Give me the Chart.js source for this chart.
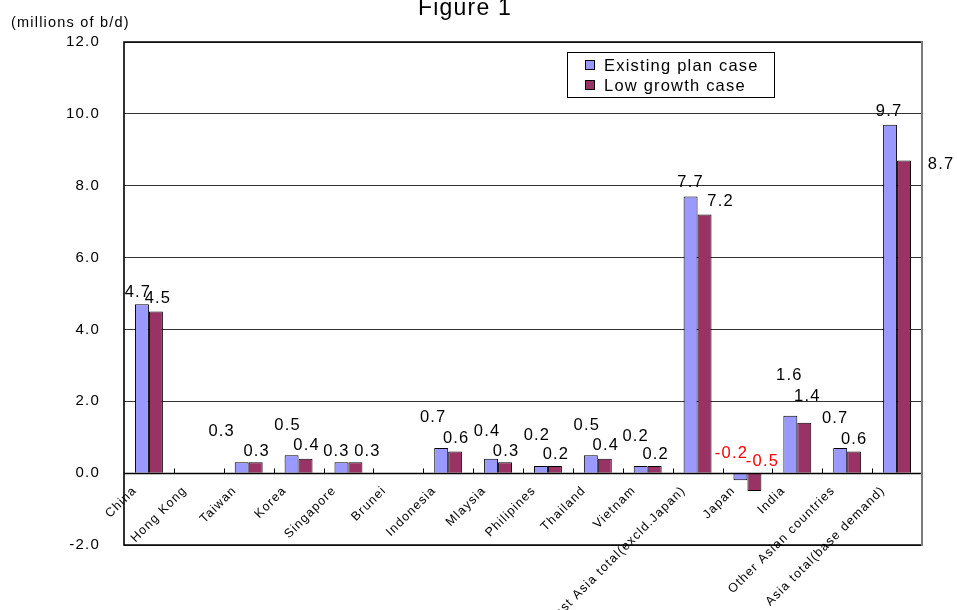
<!DOCTYPE html>
<html>
<head>
<meta charset="utf-8">
<script src="https://cdn.jsdelivr.net/npm/chart.js@4.4.1/dist/chart.umd.min.js"></script>
<style>
  html, body { margin: 0; padding: 0; background: #fff; }
  canvas { display: block; }
</style>
</head>
<body>
<canvas id="c" width="957" height="610"></canvas>
<script>
// ---- data ----
const categories = ['China', 'Hong Kong', 'Taiwan', 'Korea', 'Singapore', 'Brunei', 'Indonesia', 'Mlaysia',
  'Philipines', 'Thailand', 'Vietnam', 'East Asia total(excld.Japan)', 'Japan', 'India',
  'Other Asian countries', 'Asia total(base demand)'];
const existingPlan = [4.7, null, 0.3, 0.5, 0.3, null, 0.7, 0.4, 0.2, 0.5, 0.2, 7.7, -0.2, 1.6, 0.7, 9.7];
const lowGrowth    = [4.5, null, 0.3, 0.4, 0.3, null, 0.6, 0.3, 0.2, 0.4, 0.2, 7.2, -0.5, 1.4, 0.6, 8.7];
const yTicks = [-2, 0, 2, 4, 6, 8, 10, 12];
const seriesNames = ['Existing plan case', 'Low growth case'];
const titleText = 'Figure 1';
const unitText = '(millions of b/d)';

// hand-placed value labels: [dx, dy] from the bar end (from the zero line for negative bars)
const existingLabelNudge = [[-4,-12], null, [-20,-31], [-4,-30], [-5,-11], null, [-8,-31], [-4,-27],
  [-4,-31], [-4,-30], [-5,-30], [0,-14], [-9,-20], [-1,-40], [-5,-30], [-1,-13]];
const lowLabelNudge = [[2,-13], null, [1,-11], [1,-13], [12,-11], null, [1,-13], [1,-11],
  [1,-12], [1,-13], [1,-12], [16,-13], [8,-12], [3,-26], [0,-12], [37,4]];

// ---- styles ----
const FONT = "'Liberation Sans', Arial, Helvetica, sans-serif";
const BLUE = '#9999FF';
const PLUM = '#993366';
const LETTER_SPACING = '1.2px';

const spacingPlugin = {
  id: 'spacing',
  beforeUpdate(chart) { chart.ctx.letterSpacing = LETTER_SPACING; },
  beforeDraw(chart) {
    const ctx = chart.ctx;
    ctx.letterSpacing = LETTER_SPACING;
    ctx.save();
    ctx.fillStyle = '#fff';
    ctx.fillRect(0, 0, chart.width, chart.height);
    ctx.restore();
  }
};

// plot frame, zero axis and its small category ticks
const framePlugin = {
  id: 'frame',
  afterDatasetsDraw(chart) {
    const { ctx, chartArea: a, scales: { x, y } } = chart;
    const y0 = Math.round(y.getPixelForValue(0)) + 0.5;
    ctx.save();
    ctx.strokeStyle = '#000';
    ctx.lineWidth = 1.5;
    ctx.beginPath();
    ctx.moveTo(a.left, y0); ctx.lineTo(a.right, y0);
    ctx.stroke();
    ctx.lineWidth = 1;
    ctx.beginPath();
    for (let i = 1; i < categories.length; i++) {
      const bx = Math.round((x.getPixelForValue(i - 1) + x.getPixelForValue(i)) / 2) + 0.5;
      ctx.moveTo(bx, y0); ctx.lineTo(bx, y0 - 5);
    }
    ctx.stroke();
    ctx.lineWidth = 1.6;
    ctx.strokeStyle = '#000';
    ctx.beginPath();
    ctx.moveTo(a.right, a.top); ctx.lineTo(a.left, a.top);
    ctx.lineTo(a.left, a.bottom); ctx.lineTo(a.right, a.bottom);
    ctx.stroke();
    ctx.strokeStyle = '#7a7a7a';
    ctx.lineWidth = 2;
    ctx.beginPath();
    ctx.moveTo(a.right, a.top - 1); ctx.lineTo(a.right, a.bottom + 1);
    ctx.stroke();
    ctx.restore();
  }
};

// value labels above the bars
const valueLabelPlugin = {
  id: 'valueLabels',
  afterDatasetsDraw(chart) {
    const { ctx, scales: { y } } = chart;
    const nudges = [existingLabelNudge, lowLabelNudge];
    ctx.save();
    ctx.font = '16.5px ' + FONT;
    ctx.textAlign = 'center';
    ctx.textBaseline = 'middle';
    chart.data.datasets.forEach((ds, d) => {
      const meta = chart.getDatasetMeta(d);
      ds.data.forEach((v, i) => {
        if (v === null) return;
        const bar = meta.data[i];
        const n = nudges[d][i] || [0, -12];
        const base = v >= 0 ? bar.y : y.getPixelForValue(0);
        ctx.fillStyle = v < 0 ? '#FF0000' : '#000';
        ctx.fillText(v.toFixed(1), bar.x + n[0], base + n[1]);
      });
    });
    ctx.restore();
  }
};

// title, unit caption and boxed legend
const captionPlugin = {
  id: 'captions',
  afterDraw(chart) {
    const { ctx, chartArea: a } = chart;
    ctx.save();
    ctx.fillStyle = '#000';
    ctx.textBaseline = 'alphabetic';
    ctx.textAlign = 'center';
    ctx.font = '23px ' + FONT;
    ctx.fillText(titleText, 465, 15);
    ctx.textAlign = 'left';
    ctx.textBaseline = 'middle';
    ctx.font = '14.5px ' + FONT;
    ctx.fillText(unitText, 11, 23);

    const lx = a.left + 443, ly = a.top + 10, lw = 207, lh = 45;
    ctx.fillStyle = '#fff';
    ctx.fillRect(lx, ly, lw, lh);
    ctx.strokeStyle = '#000';
    ctx.lineWidth = 1;
    ctx.strokeRect(lx + 0.5, ly + 0.5, lw, lh);
    ctx.font = '16.5px ' + FONT;
    chart.data.datasets.forEach((ds, d) => {
      const cy = ly + 13 + d * 20;
      ctx.fillStyle = ds.backgroundColor;
      ctx.fillRect(lx + 18, cy - 5, 10, 10);
      ctx.strokeStyle = '#000';
      ctx.strokeRect(lx + 18.5, cy - 4.5, 9, 9);
      ctx.fillStyle = '#000';
      ctx.fillText(ds.label, lx + 37, cy + 1);
    });
    ctx.restore();
  }
};

new Chart(document.getElementById('c'), {
  type: 'bar',
  data: {
    labels: categories,
    datasets: [
      { label: seriesNames[0], data: existingPlan, backgroundColor: BLUE, borderColor: '#000', borderWidth: 1 },
      { label: seriesNames[1], data: lowGrowth, backgroundColor: PLUM, borderColor: '#000', borderWidth: 1 }
    ]
  },
  options: {
    responsive: false,
    devicePixelRatio: 1,
    animation: false,
    categoryPercentage: 0.56,
    barPercentage: 1.0,
    layout: { padding: { top: 42, right: 35, bottom: 65, left: 0 } },
    plugins: { legend: { display: false }, tooltip: { enabled: false }, title: { display: false } },
    scales: {
      x: {
        position: { y: 0 },
        offset: true,
        grid: { display: false },
        border: { display: false },
        ticks: {
          autoSkip: false, minRotation: 45, maxRotation: 45, padding: 2, labelOffset: -14,
          color: '#000', font: { family: FONT, size: 12.5 }
        },
        afterFit(scale) { scale.height = 0; }
      },
      y: {
        min: -2, max: 12,
        grid: { color: '#333', lineWidth: 1, drawTicks: false },
        border: { display: false },
        ticks: {
          padding: 24, color: '#000', font: { family: FONT, size: 15 },
          callback: (v) => Number(v).toFixed(1)
        },
        afterBuildTicks(scale) { scale.ticks = yTicks.map(v => ({ value: v })); },
        afterFit(scale) { scale.width = 124; }
      }
    }
  },
  plugins: [spacingPlugin, framePlugin, valueLabelPlugin, captionPlugin]
});
</script>
</body>
</html>
